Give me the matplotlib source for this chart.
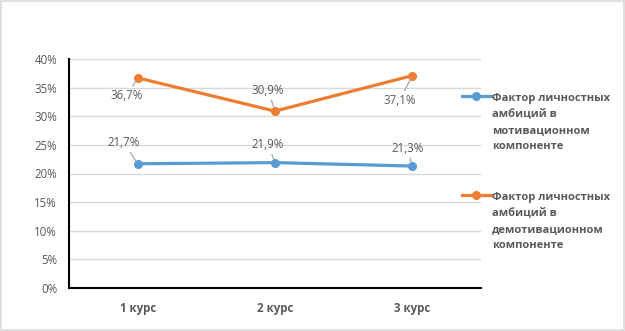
import matplotlib.pyplot as plt
from matplotlib.lines import Line2D
from matplotlib.patches import Rectangle

plt.rcParams['font.family'] = ['Open Sans', 'DejaVu Sans']

courses = ['1 курс', '2 курс', '3 курс']
motiv = [21.7, 21.9, 21.3]
demotiv = [36.7, 30.9, 37.1]
series_names = ['Фактор личностных\nамбиций в\nмотивационном\nкомпоненте',
                'Фактор личностных\nамбиций в\nдемотивационном\nкомпоненте']
colors = ['#5B9BD5', '#ED7D31']
# label offsets in pixels
motiv_off = [(-14, 21), (-7, 18), (-5, 18)]
demotiv_off = [(-11, -18), (-7, 21), (-13, -25)]

gray = '#595959'
fig = plt.figure(figsize=(6.25, 3.31), dpi=100)
fig.add_artist(Rectangle((0.001, 0.002), 0.997, 0.995, transform=fig.transFigure,
                         fill=False, edgecolor='#D9D9D9', lw=1.2))
ax = fig.add_axes([69/625, 1-288/331, 412/625, 229/331])

x = range(len(courses))
for vals, offs, c in [(motiv, motiv_off, colors[0]), (demotiv, demotiv_off, colors[1])]:
    ax.plot(x, vals, color=c, lw=2.3, marker='o', ms=5.5, zorder=3)
    for xi, v, off in zip(x, vals, offs):
        ax.annotate(f'{v:.1f}%'.replace('.', ','), (xi, v), xytext=off,
                    textcoords='offset pixels', ha='center', va='center',
                    fontsize=8.3, color=gray,
                    arrowprops=dict(arrowstyle='-', color='#A6A6A6', lw=0.9,
                                    shrinkA=0.5, shrinkB=2.5))

ax.set_xlim(-0.5, 2.5)
ax.set_ylim(0, 40)
ax.set_yticks(range(0, 41, 5))
ax.set_yticklabels([f'{t}%' for t in range(0, 41, 5)])
ax.set_xticks(list(x))
ax.set_xticklabels(courses, fontweight='bold')
ax.tick_params(length=0, labelsize=8.3, labelcolor=gray)
ax.tick_params(axis='x', pad=10)
ax.tick_params(axis='y', pad=8.5)
ax.grid(axis='y', color='#D9D9D9', lw=1)
ax.set_axisbelow(True)
for s in ['top', 'right']:
    ax.spines[s].set_visible(False)
for s in ['left', 'bottom']:
    ax.spines[s].set_color('black')
    ax.spines[s].set_linewidth(1.5)

# legend
for name, c, ytop in zip(series_names, colors, [96, 195]):
    yf = 1 - ytop/331
    fig.add_artist(Line2D([462/625, 491/625], [yf, yf], color=c, lw=2.3,
                          transform=fig.transFigure))
    fig.add_artist(Line2D([476/625], [yf], color=c, marker='o', ms=5.5,
                          transform=fig.transFigure))
    fig.text(492/625, yf + 3/331, name, ha='left', va='top', fontsize=8,
             color=gray, fontweight='bold', linespacing=1.62,
             transform=fig.transFigure)

fig.savefig('out.png', dpi=100)
